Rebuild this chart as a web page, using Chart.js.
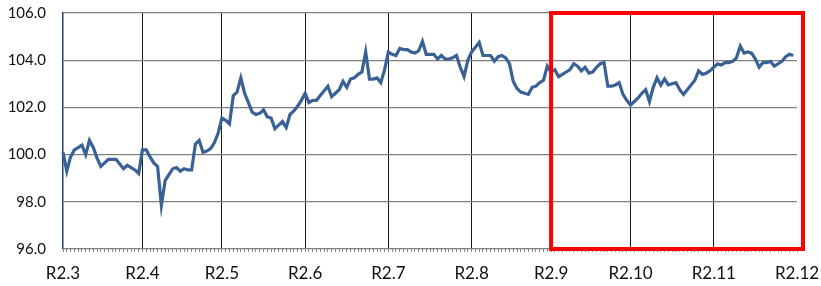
<!DOCTYPE html>
<html>
<head>
<meta charset="utf-8">
<script src="https://cdn.jsdelivr.net/npm/chart.js@4"></script>
<style>
  html, body { margin:0; padding:0; background:#fff; }
  #wrap { width:821px; height:286px; }
</style>
</head>
<body>
<div id="wrap"><canvas id="chart"></canvas></div>
<script>
// Etiquetas de meses (inicio de cada mes)
const meses = ['R2.3','R2.4','R2.5','R2.6','R2.7','R2.8','R2.9','R2.10','R2.11','R2.12'];

// Valores diarios por mes
const mar = [100.1, 99.3, 99.9, 100.2, 100.3, 100.4, 100.0, 100.6, 100.3, 99.85, 99.5,
             99.65, 99.8, 99.8, 99.8, 99.6, 99.4, 99.55, 99.45, 99.35, 99.2];
const abr = [100.2, 100.2, 99.9, 99.65, 99.5, 97.85, 98.9, 99.15, 99.4, 99.45, 99.3,
             99.4, 99.35, 99.35, 100.45, 100.6, 100.1, 100.15, 100.25, 100.5, 100.9];
const may = [101.55, 101.45, 101.3, 102.5, 102.65, 103.25, 102.6, 102.2, 101.8, 101.7, 101.75,
             101.9, 101.6, 101.55, 101.1, 101.25, 101.4, 101.15, 101.7, 101.85, 102.05, 102.3];
const jun = [102.6, 102.2, 102.3, 102.3, 102.5, 102.7, 102.9, 102.45, 102.6, 102.75, 103.1,
             102.85, 103.2, 103.25, 103.4, 103.5, 104.35, 103.2, 103.2, 103.25, 103.05, 103.6];
const jul = [104.35, 104.25, 104.2, 104.5, 104.45, 104.45, 104.35, 104.3, 104.4, 104.8, 104.25,
             104.25, 104.25, 104.05, 104.2, 104.05, 104.05, 104.1, 104.2, 103.7, 103.3, 104.0];
const ago = [104.35, 104.55, 104.75, 104.2, 104.2, 104.2, 103.95, 104.15, 104.2, 104.1, 103.85,
             103.1, 102.8, 102.65, 102.6, 102.55, 102.85, 102.9, 103.05, 103.15, 103.75];
const sep = [103.5, 103.6, 103.3, 103.4, 103.5, 103.6, 103.85, 103.75, 103.55, 103.7, 103.45,
             103.5, 103.7, 103.85, 103.9, 102.9, 102.9, 102.95, 103.05, 102.55, 102.3];
const oct = [102.1, 102.25, 102.4, 102.6, 102.75, 102.25, 102.85, 103.25, 102.95, 103.2, 102.95,
             103.0, 103.05, 102.75, 102.55, 102.75, 102.95, 103.15, 103.55, 103.4, 103.45, 103.55];
const nov = [103.7, 103.85, 103.8, 103.9, 103.9, 103.95, 104.1, 104.6, 104.3, 104.35, 104.3,
             104.05, 103.7, 103.9, 103.9, 103.95, 103.75, 103.85, 103.95, 104.15, 104.25, 104.2];
const dic = [null];

const bloques = [mar, abr, may, jun, jul, ago, sep, oct, nov, dic];

// Construir etiquetas y serie
const etiquetas = [], valores = [], inicioMes = {};
bloques.forEach((b, m) => {
  inicioMes[etiquetas.length] = meses[m];
  b.forEach(v => { etiquetas.push(etiquetas.length); valores.push(v); });
});
const idxSep = Object.keys(inicioMes).find(k => inicioMes[k] === 'R2.9');
const idxDic = Object.keys(inicioMes).find(k => inicioMes[k] === 'R2.12');

// Recuadro rojo desde R2.9 hasta el final
const recuadro = {
  id: 'recuadro',
  afterDraw(chart) {
    const { ctx, scales: { x, y }, chartArea } = chart;
    const l = x.getPixelForValue(+idxSep);
    const r = chartArea.right + 6;
    const t = y.getPixelForValue(106);
    const b = y.getPixelForValue(96);
    ctx.save();
    ctx.strokeStyle = '#ff0000';
    ctx.lineWidth = 4;
    ctx.strokeRect(l, t, r - l, b - t);
    ctx.restore();
  }
};

new Chart(document.getElementById('chart'), {
  type: 'line',
  data: {
    labels: etiquetas,
    datasets: [{
      data: valores,
      borderColor: '#3a6196',
      borderWidth: 3.2,
      pointRadius: 0,
      tension: 0,
      fill: false,
    }]
  },
  options: {
    responsive: true,
    maintainAspectRatio: false,
    animation: false,
    layout: { padding: { top: 13, right: 24, bottom: 0, left: 0 } },
    plugins: { legend: { display: false }, tooltip: { enabled: false } },
    scales: {
      x: {
        offset: false,
        afterFit: s => { s.height = 37; s.paddingLeft = 0; s.paddingRight = 0; },
        border: { display: false },
        grid: {
          color: c => (inicioMes[c.index] && c.index != idxDic && c.index !== 0) ? '#1a1a1a' : 'rgba(0,0,0,0)',
          lineWidth: 1,
          tickColor: '#888',
          tickLength: 3,
        },
        ticks: {
          autoSkip: false,
          maxRotation: 0,
          padding: 11,
          color: '#111',
          font: { family: 'Lato', size: 17 },
          callback: (v, i) => inicioMes[i] || '',
        }
      },
      y: {
        min: 96,
        max: 106,
        afterFit: s => { s.width = 63; s.paddingTop = 0; s.paddingBottom = 0; },
        border: { display: true, color: '#243f6e', width: 1.5 },
        grid: { color: '#808080', lineWidth: 1.3, drawTicks: false },
        ticks: {
          stepSize: 2,
          padding: 17,
          color: '#111',
          font: { family: 'Lato', size: 15 },
          callback: v => v.toFixed(1),
        }
      }
    }
  },
  plugins: [recuadro]
});
</script>
</body>
</html>
